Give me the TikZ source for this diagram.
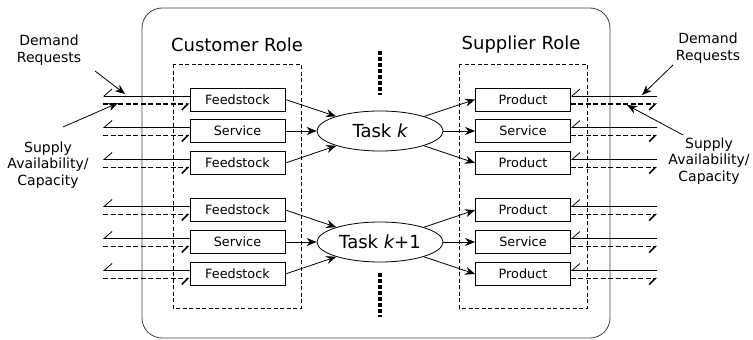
\documentclass[tikz,border=0pt]{standalone}
\usepackage{fontspec}
\setmainfont{DejaVu Sans}
\usetikzlibrary{arrows.meta,shapes.geometric,calc}
\begin{document}
\begin{tikzpicture}[x=1pt,y=-1pt,
  box/.style={draw, line width=0.8pt, fill=white, minimum width=95pt, minimum height=23pt, inner sep=0pt, font=\fontsize{12.8}{14}\selectfont},
  task/.style={draw, ellipse, line width=0.8pt, fill=white, minimum width=126pt, minimum height=40pt, inner sep=0pt, font=\fontsize{18}{20}\selectfont},
  role/.style={font=\fontsize{18}{20}\selectfont, inner sep=0pt},
  side/.style={align=center, font=\fontsize{14}{16.5}\selectfont, inner sep=0pt},
  dem/.style={line width=0.8pt, -{Straight Barb[right, length=8pt, width=14pt, line width=0.8pt]}},
  sup/.style={line width=1.5pt, dash pattern=on 5pt off 2.5pt, -{Straight Barb[right, length=6pt, width=12pt, line width=1.5pt]}},
  flow/.style={line width=0.8pt, -{Stealth[length=10pt, width=8pt]}},
  pointer/.style={line width=0.8pt, -{Stealth[length=10pt, width=8pt]}},
  region/.style={line width=0.9pt, dash pattern=on 4pt off 2.5pt},
  outer/.style={draw=black!75, line width=0.8pt, rounded corners=20pt},
  dots/.style={line width=4pt, dash pattern=on 3.5pt off 2.5pt}
]
\useasboundingbox (0,0) rectangle (753,340);
\draw[outer] (142,8) rectangle (610,338);
\draw[region] (173,64) rectangle (301,308);
\draw[region] (459,64) rectangle (587,308);

\node[role] (crole) at (237,45) {Customer Role};
\node[role] (srole) at (521,45) {Supplier Role};

\draw[dots] (380,51) -- (380,95);
\draw[dots] (380,273) -- (380,317);

% customer boxes
\node[box] (c1) at (237.5,99.5) {Feedstock};
\node[box] (c2) at (237.5,131) {Service};
\node[box] (c3) at (237.5,163) {Feedstock};
\node[box] (c4) at (237.5,210) {Feedstock};
\node[box] (c5) at (237.5,242) {Service};
\node[box] (c6) at (237.5,274) {Feedstock};
% supplier boxes
\node[box] (p1) at (523,99.5) {Product};
\node[box] (p2) at (523,131) {Service};
\node[box] (p3) at (523,163) {Product};
\node[box] (p4) at (523,210) {Product};
\node[box] (p5) at (523,242) {Service};
\node[box] (p6) at (523,274) {Product};
% tasks
\node[task] (t1) at (380,131) {Task {\itshape k}};
\node[task] (t2) at (380,242) {Task {\itshape k}+1};

\foreach \n in {c1,c2,c3} {\draw[flow] (\n.east) -- (t1);}
\foreach \n in {c4,c5,c6} {\draw[flow] (\n.east) -- (t2);}
\foreach \n in {p1,p2,p3} {\draw[flow] (t1) -- (\n.west);}
\foreach \n in {p4,p5,p6} {\draw[flow] (t2) -- (\n.west);}

% left external lines
\foreach \n/\y in {c1/99.5, c2/131, c3/163, c4/210, c5/242, c6/274} {
  \coordinate (\n s) at (103,\y-3.5);
  \coordinate (\n d) at (103,\y+4.5);
  \draw[dem] ([yshift=3.5pt]\n.west) -- (\n s);
  \draw[sup] (\n d) -- ([yshift=-4.5pt]\n.west);
}
% right external lines
\foreach \n/\y in {p1/99.5, p2/131, p3/163, p4/210, p5/242, p6/274} {
  \coordinate (\n s) at (657,\y-3.5);
  \coordinate (\n d) at (657,\y+4.5);
  \draw[dem] (\n s) -- ([yshift=3.5pt]\n.east);
  \draw[sup] ([yshift=-4.5pt]\n.east) -- (\n d);
}

% side labels
\node[side] (ldem) at (49,50) {Demand\\Requests};
\node[side] (lsup) at (48,165) {Supply\\Availability/\\Capacity};
\node[side] (rdem) at (708,48) {Demand\\Requests};
\node[side] (rsup) at (709,161) {Supply\\Availability/\\Capacity};

\coordinate (ldemA) at (95,71);
\coordinate (ldemB) at (125,94);
\coordinate (lsupA) at (63,127);
\coordinate (lsupB) at (118,103);
\coordinate (rdemA) at (673,65);
\coordinate (rdemB) at (642,95);
\coordinate (rsupA) at (683,135);
\coordinate (rsupB) at (627,105);
\draw[pointer] (ldemA) -- (ldemB);
\draw[pointer] (lsupA) -- (lsupB);
\draw[pointer] (rdemA) -- (rdemB);
\draw[pointer] (rsupA) -- (rsupB);
\end{tikzpicture}
\end{document}
